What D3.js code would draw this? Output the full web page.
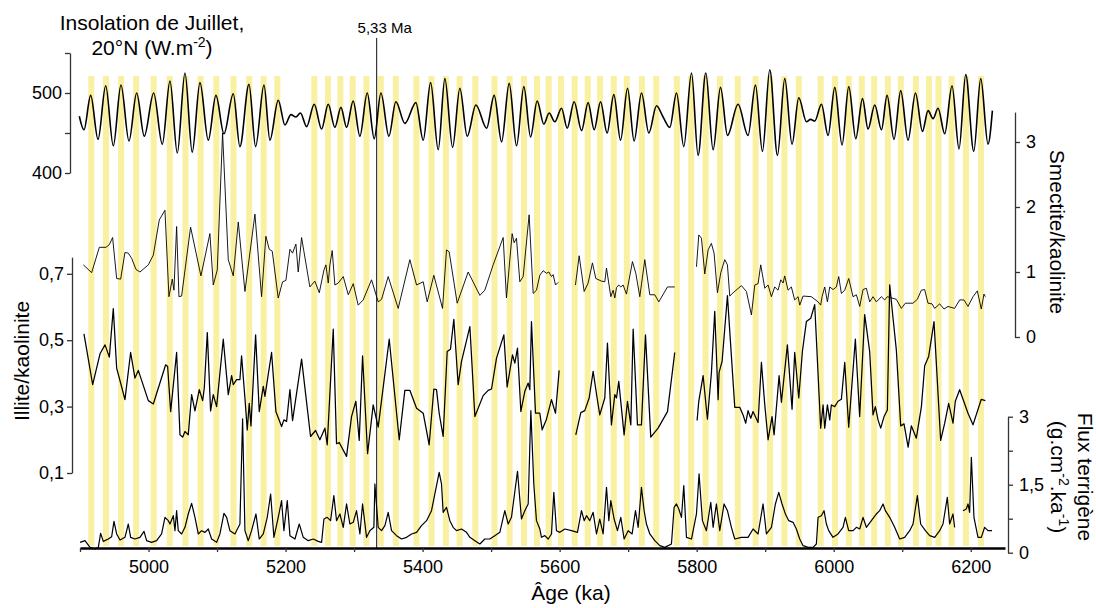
<!DOCTYPE html>
<html><head><meta charset="utf-8">
<script src="https://cdn.jsdelivr.net/npm/d3@7"></script>
<style>body{margin:0;background:#fff}svg{display:block}</style>
</head><body>
<svg id="c" width="1096" height="608"></svg>
<script>
// ---------------- DATA ----------------
const ageTicks = [4900,5000,5100,5200,5300,5400,5500,5600,5700,5800,5900,6000,6100,6200];
const insTicks = [400,450,500,550];
const illTicks = [0.1,0.3,0.5,0.7];
const smeTicks = [0,1,2,3];
const fluxTicks = [0,0.75,1.5,2.25,3];
const boundaryAge = 5333;
const boundaryLabel = "5,33 Ma";

// centres of the yellow bands (ka)
const bandCenters = [4916.5,4938,4960,4982,5007.5,5031,5054,5076,5099,5124,5147,5168,5188,
 5242,5262,5280,5298,5318,5339,5361,5391,5413,5434,5454,5477,5505,5527,5548,5567,5584,5602,
 5622,5641,5659,5679,5698,5720,5741,5771,5792,5813,5834,5860,5886,5907,5928,5949,5981,6002,
 6022,6041,6059,6079,6098,6120,6139,6153,6172,6193,6215];

// July insolation 20°N (W.m-2): [age ka, value]
const insolation = [[4899,471],[4905.8,454],[4915.6,497],[4926.3,442],[4937.5,509],[4948.6,434],[4959.8,510],[4971.5,440],[4982.7,500],[4993.8,446],[5007.5,500],[5020.1,436],[5031.3,515],[5042,425],[5053.2,525],[5063.8,426],[5075.1,513],[5087.2,441],[5098.4,497],[5110.1,449],[5123.7,499],[5133.4,433],[5146.6,511],[5156.3,433],[5168.5,510],[5177.2,441],[5189.3,491],[5199.1,460],[5207.8,473],[5215.1,470],[5221.7,475],[5230.8,458],[5241.8,486],[5252.6,455],[5262.3,486],[5272,457],[5280.8,482],[5289.1,457],[5298.7,490],[5308.5,446],[5319.2,500],[5329.4,443],[5339.2,500],[5350.8,446],[5361,489],[5374.2,462],[5390.2,488],[5400.9,441],[5411.7,513],[5422.8,429],[5432.5,518],[5443.8,432],[5454.4,506],[5465.1,446],[5477.8,485],[5493.4,456],[5504.5,497],[5515.3,439],[5526.4,512],[5537.1,434],[5547.8,508],[5557.6,445],[5567.2,490],[5577,461],[5584.7,475],[5593,464],[5602.8,481],[5611,456],[5621.2,489],[5632,453],[5641.6,488],[5650.4,454],[5659.7,489],[5669.3,450],[5679.1,498],[5688.9,441],[5699.1,506],[5708.7,440],[5719.5,500],[5730.2,450],[5741.4,484],[5751,470],[5760.8,457],[5770.6,500],[5781.2,433],[5792.5,525],[5802.1,422],[5813.3,525],[5824,429],[5834.8,507],[5845,447],[5860.4,486],[5875,447],[5885.8,510],[5896,427],[5906.7,529],[5917.9,422],[5928.6,518],[5939.2,436],[5949,494],[5960.3,464],[5966.1,467],[5972.4,465],[5982.1,486],[5991.8,447],[6001.6,507],[6012.2,435],[6022,508],[6032.2,443],[6042,493],[6050.1,455],[6059.9,485],[6069.7,454],[6077.9,497],[6088,442],[6097.8,503],[6108.5,441],[6119.3,500],[6129.5,452],[6137.7,478],[6145,468],[6152.3,481],[6162,449],[6172.7,509],[6182.9,430],[6192.7,523],[6204.4,427],[6214.6,518],[6225.2,436],[6231.6,478]];

// Smectite/kaolinite: [age ka, ratio]  (null = gap)
const smectite = [[4904.9,1.11],[4917,0.99],[4928.2,1.38],[4937.9,1.38],[4942.8,1.42],[4947.6,1.53],[4953.5,0.90],[4959.3,0.89],[4965.6,1.30],[4970.5,1.29],[4975.4,1.21],[4981.7,1.04],[4987.5,1.0],[4999.7,1.11],[5007,1.26],[5015.7,1.80],[5024,1.95],[5029.8,0.62],[5034.7,0.89],[5037.1,0.72],[5041,1.70],[5044.4,0.62],[5048.3,0.63],[5061.4,1.69],[5076.5,0.94],[5089.6,1.59],[5094.5,0.80],[5100.3,1.03],[5108.1,3.14],[5116.4,1.19],[5123.7,0.94],[5131,1.77],[5140.7,0.70],[5155.3,1.89],[5165,0.62],[5171.3,1.55],[5176.2,1.35],[5180.6,1.32],[5189.3,0.60],[5195.7,0.85],[5200.5,0.87],[5206.4,1.35],[5210.2,1.29],[5215.1,1.43],[5218.5,1.0],[5223.4,1.53],[5235.5,0.77],[5242.8,0.86],[5249.2,0.68],[5256,1.03],[5258.9,1.11],[5262.3,0.83],[5264.7,1.11],[5268.1,1.33],[5272,0.80],[5276.9,0.83],[5284.2,0.93],[5291.5,0.65],[5298.8,0.82],[5306,0.49],[5313.3,0.57],[5325.5,0.88],[5335.2,0.54],[5340.1,0.58],[5349.8,0.93],[5364.4,0.44],[5381.4,1.19],[5391.2,0.80],[5400.9,0.85],[5406.7,0.54],[5416.4,0.95],[5429.1,0.44],[5434.9,1.34],[5438.8,1.31],[5450.5,0.52],[5466.5,1.0],[5483.6,0.64],[5490.8,0.72],[5503,1.11],[5517.6,1.53],[5522.4,0.60],[5530.7,1.59],[5533.6,1.45],[5537,1.52],[5541.9,0.85],[5546.8,0.93],[5555.5,1.88],[5561.4,0.67],[5566.2,0.72],[5571.1,0.95],[5576,1.02],[5580.8,0.98],[5584.2,1.0],[5588.1,0.93],[5590.5,0.96],[5594,0.80],[5597.8,0.84],[5610,null],[5623.1,0.80],[5628.5,1.25],[5635.8,0.70],[5641.6,0.83],[5647.9,1.14],[5652.8,0.90],[5661.1,0.86],[5665.9,0.85],[5668.4,1.06],[5674.7,0.62],[5678.1,0.72],[5680.5,0.60],[5683,0.76],[5686.3,0.80],[5689.3,0.77],[5692.7,0.80],[5697.5,0.66],[5706.3,1.16],[5711.2,0.98],[5717,0.62],[5724.3,1.19],[5731.6,0.65],[5738.9,0.65],[5744.7,0.54],[5757.4,0.77],[5768,0.77],[5785,null],[5799.7,1.08],[5803.1,1.57],[5807,1.52],[5811.8,0.97],[5816.7,1.34],[5821.5,1.44],[5825.4,1.29],[5830.3,0.68],[5835.2,0.99],[5841,1.19],[5844.9,1.11],[5848.3,0.63],[5853.1,0.68],[5865.3,0.79],[5872.6,0.70],[5879.9,0.34],[5884.8,0.80],[5889.6,0.82],[5893.5,1.11],[5899.4,0.75],[5904.2,0.80],[5909.1,0.62],[5913.9,0.77],[5918.8,0.72],[5922.7,0.88],[5926.1,0.83],[5928.5,0.94],[5933.4,0.72],[5938.2,0.77],[5943.1,0.57],[5948,0.62],[5950.4,0.49],[5955.3,0.63],[5967.4,0.62],[5977.2,0.54],[5981,0.49],[5983,0.62],[5986.9,0.77],[5990.8,0.54],[5994.2,0.77],[5999,0.73],[6003.9,0.77],[6007.3,0.93],[6011.2,0.67],[6016.1,0.72],[6021.9,0.90],[6028.2,0.62],[6033.1,0.65],[6038,0.47],[6042.8,0.73],[6047.7,0.75],[6052.5,0.54],[6057.4,0.62],[6062.3,0.54],[6069.6,0.62],[6074.4,0.57],[6078.3,0.62],[6091.4,0.58],[6098.7,0.44],[6104.6,0.52],[6115.7,0.52],[6122.1,0.58],[6127.9,0.72],[6132.8,0.73],[6137.6,0.52],[6143.5,0.51],[6147.4,0.44],[6154.7,0.51],[6161,0.43],[6166.8,0.47],[6176.5,0.44],[6183.8,0.57],[6190.1,0.57],[6196,0.47],[6203.3,0.62],[6209.6,0.71],[6215.4,0.43],[6219.3,0.66],[6221.3,0.62]];

// Illite/kaolinite: [age ka, ratio]
const illite = [[4905.8,0.519],[4918.5,0.366],[4929.2,0.459],[4936.5,0.486],[4942.8,0.449],[4948.6,0.595],[4953.5,0.416],[4959.3,0.371],[4965.6,0.321],[4973.9,0.463],[4980.2,0.386],[4985.1,0.409],[4999.7,0.318],[5007,0.308],[5025,0.426],[5027.9,0.421],[5032.3,0.285],[5041,0.463],[5045.9,0.215],[5049.8,0.208],[5053.2,0.225],[5058,0.215],[5062.9,0.336],[5067.8,0.287],[5074.1,0.351],[5079,0.318],[5081.4,0.356],[5085.8,0.523],[5090.6,0.287],[5094.5,0.336],[5099.4,0.300],[5109.1,0.503],[5116.4,0.336],[5121.3,0.393],[5123.7,0.366],[5128.6,0.381],[5133.4,0.381],[5135.8,0.453],[5140.7,0.326],[5144.1,0.230],[5147,0.310],[5149.5,0.242],[5156.3,0.516],[5161.6,0.285],[5167.5,0.361],[5169.9,0.331],[5179.6,0.463],[5185.9,0.285],[5194.2,0.240],[5197.6,0.260],[5201.5,0.255],[5206.4,0.351],[5210.2,0.258],[5223.4,0.443],[5236.5,0.210],[5243.8,0.228],[5250.1,0.200],[5257.4,0.235],[5260.8,0.185],[5269.6,0.533],[5274.4,0.188],[5278.3,0.192],[5289,0.150],[5296.3,0.270],[5302.6,0.316],[5307.5,0.198],[5312.4,0.453],[5319.7,0.158],[5327.9,0.305],[5335.2,0.238],[5351.3,0.503],[5365.9,0.200],[5374.1,0.349],[5381.4,0.349],[5391.2,0.295],[5400.9,0.280],[5409.6,0.185],[5416.4,0.353],[5420.3,0.351],[5424.2,0.280],[5430,0.210],[5435.9,0.466],[5440.7,0.473],[5445.6,0.563],[5451.9,0.366],[5456.8,0.436],[5469,0.541],[5476.3,0.270],[5488.4,0.333],[5495.7,0.349],[5500.6,0.353],[5507.9,0.446],[5518.6,0.516],[5523.4,0.359],[5531.2,0.456],[5534.6,0.431],[5538.5,0.476],[5543.4,0.285],[5549.2,0.346],[5554.1,0.371],[5556.5,0.351],[5558.9,0.556],[5564.8,0.280],[5571.1,0.280],[5574.5,0.230],[5580.8,0.262],[5588.1,0.321],[5594,0.280],[5599.3,0.409],[5611,null],[5623.6,0.215],[5630.9,0.282],[5636.7,0.288],[5643.1,0.326],[5648.9,0.406],[5654.7,0.326],[5658.6,0.275],[5665.9,0.326],[5669.8,0.491],[5675.6,0.245],[5680.5,0.336],[5683,0.326],[5686.3,0.376],[5694.1,0.215],[5699,0.316],[5703.9,0.245],[5707.3,0.533],[5713.6,0.245],[5719.4,0.245],[5725.3,0.516],[5733,0.208],[5743.7,0.235],[5757.4,0.285],[5768,0.463],[5785,null],[5800.6,0.258],[5803.1,0.316],[5809.4,0.393],[5815.7,0.262],[5821.5,0.401],[5826.4,0.587],[5831.3,0.321],[5832.7,0.403],[5837.1,0.436],[5844.9,0.634],[5855.6,0.298],[5862.9,0.298],[5867.7,0.275],[5871.6,0.250],[5875,0.288],[5878.9,0.265],[5882.3,0.285],[5889.6,0.252],[5894.5,0.433],[5899.3,0.308],[5904.2,0.200],[5910,0.270],[5913,0.215],[5920.3,0.393],[5923.7,0.313],[5932.4,0.486],[5939.2,0.292],[5943.1,0.463],[5949,0.326],[5954.3,0.466],[5960.1,0.556],[5966.5,0.566],[5972.3,0.607],[5981,0.235],[5984.5,0.305],[5986.9,0.235],[5990.8,0.305],[5994.2,0.260],[5996.6,0.305],[6001.5,0.300],[6006.3,0.316],[6011.2,0.322],[6016.1,0.433],[6021.9,0.238],[6031.6,0.503],[6037.9,0.270],[6045.2,0.577],[6052.5,0.466],[6057.4,0.275],[6060.8,0.300],[6064.7,0.260],[6068.6,0.235],[6073.5,0.270],[6078.3,0.290],[6081.7,0.667],[6086.6,0.566],[6091.4,0.471],[6097.8,0.242],[6102.6,0.248],[6108.6,0.178],[6113.3,0.242],[6120.6,0.205],[6128,0.300],[6132.8,0.423],[6138.6,0.451],[6146.4,0.556],[6156.1,0.198],[6162,0.250],[6167.8,0.310],[6174.1,0.250],[6177.5,0.316],[6183.8,0.351],[6196,0.280],[6203.3,0.245],[6215.4,0.322],[6221.3,0.318]];

// Terrigenous flux (g.cm-2.ka-1): [age ka, value]
const flux = [[4900,0.228],[4907.3,0.265],[4914.6,0.118],[4921.9,0.081],[4926.7,0.118],[4930.1,0.427],[4934,0.250],[4941.3,0.302],[4946.2,0.353],[4949.6,0.692],[4953.5,0.413],[4958.4,0.280],[4965.6,0.339],[4970.5,0.633],[4973.9,0.339],[4980.2,0.302],[4987.5,0.339],[4993.4,0.471],[4997.2,0.265],[5004.5,0.228],[5011.8,0.265],[5019.1,0.413],[5024,0.780],[5028.9,0.707],[5031.3,0.633],[5036.2,0.817],[5038.6,0.486],[5041,0.927],[5043.4,0.486],[5048.3,0.413],[5053.2,0.560],[5058,0.854],[5062.9,1.089],[5067.8,0.780],[5072.6,0.413],[5077.5,0.486],[5082.4,0.449],[5087.2,0.523],[5092.1,0.302],[5099.4,0.228],[5104.2,0.413],[5110.1,0.868],[5114,0.780],[5118.8,0.486],[5126.1,0.413],[5133.4,0.633],[5137.3,2.951],[5140.7,0.486],[5145.6,0.265],[5150.4,0.486],[5156.8,0.854],[5161.6,0.302],[5167.5,0.413],[5173.3,0.780],[5178.2,1.295],[5183,0.339],[5189.3,0.780],[5194.2,1.148],[5197.6,0.486],[5202.5,1.148],[5206.4,0.376],[5213.7,0.302],[5220,0.633],[5225.8,0.339],[5233.1,0.265],[5240.4,0.302],[5247.7,0.250],[5252.6,0.228],[5256,0.743],[5260.8,0.780],[5265.7,0.707],[5270.5,1.258],[5274.4,0.707],[5279.3,0.854],[5284.2,0.560],[5289,1.075],[5293.9,0.633],[5298.8,0.670],[5303.6,0.927],[5308.5,0.413],[5312.4,1.075],[5318.2,0.339],[5323.1,0.486],[5328.9,0.560],[5330.4,1.516],[5335.2,0.560],[5340.1,0.486],[5345,0.597],[5349.8,0.891],[5354.7,0.486],[5362,0.376],[5369.3,0.302],[5376.6,0.339],[5383.9,0.413],[5391.2,0.449],[5398.4,0.597],[5405.8,0.707],[5413,0.927],[5417.9,1.295],[5424.2,1.774],[5427.6,1.516],[5430,0.891],[5434.9,1.001],[5439.8,0.707],[5444.6,0.560],[5449.5,0.486],[5456.8,0.523],[5464.1,0.449],[5469,0.339],[5476.3,0.265],[5483.6,0.192],[5490.8,0.302],[5498.1,0.302],[5505.4,0.376],[5512.7,0.449],[5520,0.927],[5524.9,0.633],[5529.7,0.780],[5538.5,1.796],[5544.3,0.743],[5549.2,0.927],[5554.1,1.075],[5558,3.135],[5562.3,1.516],[5566.2,0.707],[5571.1,0.523],[5573.5,0.339],[5578.4,0.376],[5583.3,0.302],[5588.1,0.413],[5591.5,1.332],[5595.4,0.486],[5600.3,0.449],[5607.6,0.523],[5617.3,0.486],[5626,0.449],[5631.9,0.927],[5635.8,0.707],[5639.2,0.817],[5644,0.707],[5648.9,0.891],[5653.8,0.413],[5658.6,0.743],[5663.5,0.413],[5668.4,1.442],[5671.8,0.707],[5674.7,1.148],[5679.5,0.743],[5684.4,0.486],[5689.3,0.780],[5694.1,0.302],[5700,0.486],[5705.8,0.413],[5710.7,0.927],[5714.6,0.560],[5719.4,1.442],[5723.3,0.927],[5726.7,0.633],[5731.6,0.413],[5738.9,0.265],[5746.2,0.155],[5753.5,0.118],[5763.2,0.192],[5767.1,1.001],[5770.5,1.075],[5773.9,0.964],[5777.8,0.780],[5781.2,1.479],[5785.1,0.339],[5792.4,0.302],[5799.7,0.854],[5803.5,1.737],[5808.4,0.707],[5814.2,0.486],[5820.6,1.111],[5824,0.560],[5828.8,1.075],[5833.7,0.486],[5840,1.075],[5844.9,0.927],[5850.7,0.560],[5855.6,0.302],[5865.3,0.339],[5875,0.339],[5882.3,0.523],[5889.6,0.413],[5896.9,1.075],[5901.8,0.413],[5909.1,0.560],[5914.9,1.075],[5919.8,1.332],[5924.6,1.075],[5929.5,0.854],[5934.4,0.707],[5940.7,0.670],[5945.5,0.523],[5950.4,0.302],[5955.3,0.155],[5962.6,0.118],[5969.9,0.118],[5974.7,0.192],[5977.2,0.780],[5982,0.817],[5985.9,0.927],[5989.3,0.633],[5992.7,0.486],[5999,0.339],[6006.3,0.413],[6013.6,0.560],[6017,0.780],[6021.9,0.486],[6028.2,0.486],[6033.1,0.560],[6038,0.523],[6042.8,0.780],[6047.7,0.560],[6055,0.707],[6062.3,0.854],[6067.1,0.927],[6072,1.075],[6075.4,0.927],[6081.7,0.780],[6089,0.560],[6096.3,0.302],[6103.6,0.339],[6110.9,0.486],[6115.8,0.633],[6122.1,1.258],[6126.9,0.633],[6133.8,0.486],[6140.1,0.376],[6147.4,0.339],[6154.7,0.486],[6159.5,0.633],[6165.8,1.222],[6169.2,0.633],[6174.1,0.854],[6176.5,0.560],[6182,null],[6188.7,0.927],[6193.5,0.964],[6196,1.075],[6198.4,0.891],[6200.9,2.105],[6204.7,0.780],[6210.6,0.339],[6215.4,0.339],[6220.3,0.560],[6225.2,0.486],[6231,0.486]];

// ---------------- CHART ----------------
const FONT = "'Liberation Sans', Arial, Helvetica, sans-serif";
const svg = d3.select("#c").style("font-family", FONT);

const x = d3.scaleLinear().domain([4900, 6250]).range([80, 1005]);
const yIns = d3.scaleLinear().domain([400, 550]).range([173, 53]);
const ySme = d3.scaleLinear().domain([0, 3.46]).range([337, 112.1]);
const yIll = d3.scaleLinear().domain([0.1, 0.75]).range([473, 257.2]);
const yFlux = d3.scaleLinear().domain([0, 3]).range([552.7, 416.7]);
const comma = d => String(d).replace(".", ",");

// bands
const bandW = 6;
svg.append("g").selectAll("rect").data(bandCenters).join("rect")
  .attr("x", d => x(d) - bandW / 2).attr("width", bandW)
  .attr("y", 76).attr("height", 470)
  .attr("fill", "#faf0a2");

// boundary line
svg.append("line").attr("x1", x(boundaryAge)).attr("x2", x(boundaryAge))
  .attr("y1", 38).attr("y2", 548).attr("stroke", "#111").attr("stroke-width", 1);
svg.append("text").attr("x", x(boundaryAge) + 8).attr("y", 33)
  .attr("text-anchor", "middle").attr("font-size", 15).text(boundaryLabel);

function drawLine(data, y, width, curve) {
  const gen = d3.line().defined(d => d[1] !== null)
    .x(d => x(d[0])).y(d => y(d[1])).curve(curve || d3.curveLinear);
  svg.append("path").datum(data).attr("d", gen)
    .attr("fill", "none").attr("stroke", "#000").attr("stroke-width", width)
    .attr("stroke-linejoin", "round");
}
drawLine(insolation, yIns, 1.6, d3.curveMonotoneX);
drawLine(smectite, ySme, 0.9);
drawLine(illite, yIll, 1.25);
drawLine(flux, yFlux, 1.2);

function styleAxis(g, size) {
  g.attr("font-family", FONT).attr("font-size", size);
  g.selectAll("path.domain").attr("stroke", "#333").attr("stroke-width", 1.3);
  g.selectAll(".tick line").attr("stroke", "#333").attr("stroke-width", 1.3);
  g.selectAll(".tick text").attr("fill", "#000");
}

// insolation axis
svg.append("g").attr("transform", "translate(70,0)")
  .call(d3.axisLeft(yIns).tickValues(insTicks).tickFormat(d => d % 100 === 0 ? d : "")
    .tickSize(5).tickSizeOuter(0).tickPadding(3))
  .call(g => styleAxis(g, 18));

// illite axis
svg.append("g").attr("transform", "translate(72,0)")
  .call(d3.axisLeft(yIll).tickValues(illTicks).tickFormat(d => comma(d.toFixed(1)))
    .tickSize(5).tickSizeOuter(0).tickPadding(3))
  .call(g => styleAxis(g, 18));

// smectite axis
svg.append("g").attr("transform", "translate(1015,0)")
  .call(d3.axisRight(ySme).tickValues(smeTicks).tickFormat(d => String(d))
    .tickSize(5).tickSizeOuter(0).tickPadding(6))
  .call(g => styleAxis(g, 18));

// flux axis
svg.append("g").attr("transform", "translate(1008,0)")
  .call(d3.axisRight(yFlux).tickValues(fluxTicks)
    .tickFormat(d => (d === 0 || d === 1.5 || d === 3) ? comma(d) : "")
    .tickSize(5).tickSizeOuter(0).tickPadding(6))
  .call(g => styleAxis(g, 18));

// age axis
const ax = svg.append("g").attr("transform", "translate(0,548)")
  .call(d3.axisBottom(x).tickValues(ageTicks).tickFormat(d => d % 200 === 0 ? d : "")
    .tickSize(4).tickSizeOuter(0).tickPadding(8))
  .call(g => styleAxis(g, 18));
ax.select("path.domain").attr("stroke", "#000").attr("stroke-width", 2.6);

// titles
const t1 = svg.append("text").attr("font-size", 21).attr("text-anchor", "middle");
t1.append("tspan").attr("x", 152).attr("y", 30).text("Insolation de Juillet,");
const l2 = t1.append("tspan").attr("x", 152).attr("y", 55);
l2.append("tspan").text("20°N (W.m");
l2.append("tspan").attr("dy", -8).attr("font-size", 14).text("-2");
l2.append("tspan").attr("dy", 8).text(")");

svg.append("text").attr("x", 571).attr("y", 600).attr("font-size", 21)
  .attr("text-anchor", "middle").text("Âge (ka)");

svg.append("text").attr("transform", "translate(1057,232) rotate(90)")
  .attr("dy", "0.35em").attr("font-size", 21).attr("text-anchor", "middle")
  .text("Smectite/kaolinite");

svg.append("text").attr("transform", "translate(22,361) rotate(-90)")
  .attr("dy", "0.35em").attr("font-size", 21).attr("text-anchor", "middle")
  .text("Illite/kaolinite");

const fg = svg.append("g").attr("transform", "translate(1071,477) rotate(90)")
  .attr("font-size", 21).attr("text-anchor", "middle");
fg.append("text").attr("y", -14).attr("dy", "0.35em").text("Flux terrigène");
const f2 = fg.append("text").attr("y", 13).attr("dy", "0.35em");
f2.append("tspan").text("(g.cm");
f2.append("tspan").attr("dy", -8).attr("font-size", 14).text("-2");
f2.append("tspan").attr("dy", 8).text(".ka");
f2.append("tspan").attr("dy", -8).attr("font-size", 14).text("-1");
f2.append("tspan").attr("dy", 8).text(")");
</script>
</body></html>
